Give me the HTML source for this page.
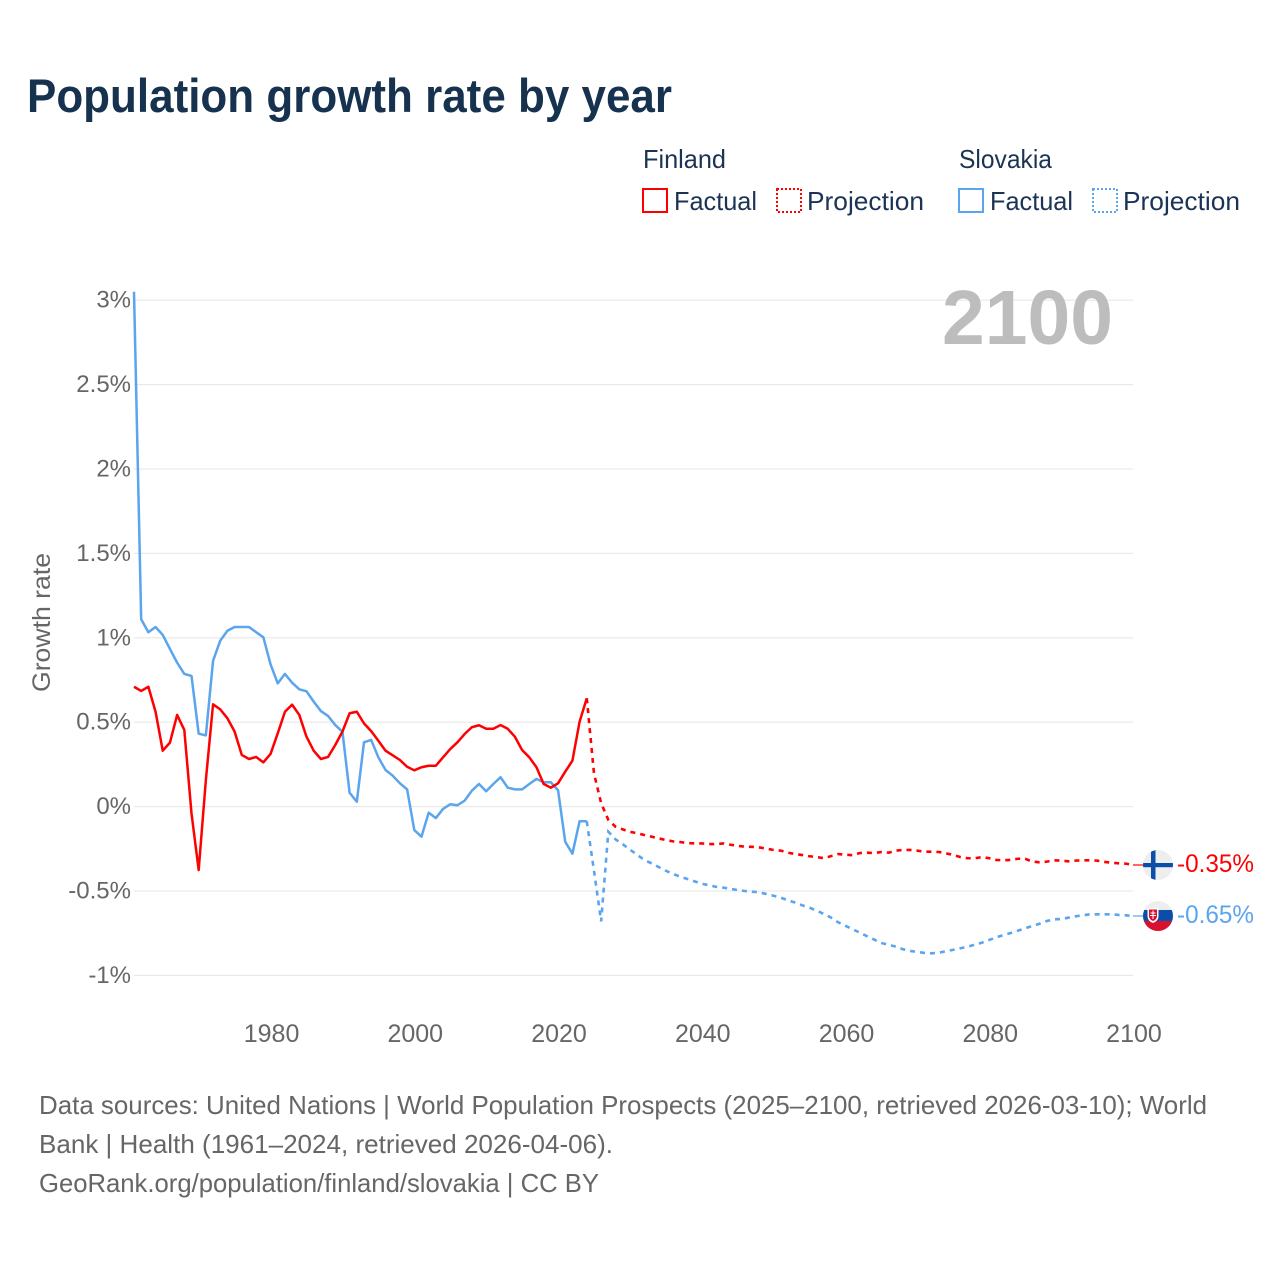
<!DOCTYPE html>
<html lang="en">
<head>
<meta charset="utf-8">
<title>Population growth rate by year</title>
<style>
html,body{margin:0;padding:0;background:#fff;width:1280px;height:1280px;overflow:hidden}
svg{display:block}
text{font-family:"Liberation Sans",Arial,sans-serif}
</style>
</head>
<body>
<svg id="chart" xmlns="http://www.w3.org/2000/svg" width="1280" height="1280" viewBox="0 0 1280 1280">
  <rect width="1280" height="1280" fill="#ffffff"/>
  <text x="27" y="112" font-size="47" font-weight="700" fill="#17324f" textLength="645" lengthAdjust="spacingAndGlyphs">Population growth rate by year</text>

  <g font-size="26" fill="#1b3354">
    <text x="643" y="168" textLength="83" lengthAdjust="spacingAndGlyphs">Finland</text>
    <rect x="643" y="189" width="24" height="23" fill="none" stroke="#ff0000" stroke-width="2"/>
    <text x="674" y="210" textLength="83" lengthAdjust="spacingAndGlyphs">Factual</text>
    <rect x="777" y="189" width="24" height="23" fill="none" stroke="#ff0000" stroke-width="2" stroke-dasharray="2 2"/>
    <text x="807" y="210" textLength="117" lengthAdjust="spacingAndGlyphs">Projection</text>
    <text x="959" y="168" textLength="93" lengthAdjust="spacingAndGlyphs">Slovakia</text>
    <rect x="959" y="189" width="24" height="23" fill="none" stroke="#5ba4ee" stroke-width="2"/>
    <text x="990" y="210" textLength="83" lengthAdjust="spacingAndGlyphs">Factual</text>
    <rect x="1093" y="189" width="24" height="23" fill="none" stroke="#5ba4ee" stroke-width="2" stroke-dasharray="2 2"/>
    <text x="1123" y="210" textLength="117" lengthAdjust="spacingAndGlyphs">Projection</text>
  </g>

  <text transform="translate(50,692) rotate(-90)" font-size="25" fill="#666666" textLength="139" lengthAdjust="spacingAndGlyphs">Growth rate</text>

  <g id="grid"></g>
  <g id="yticks"></g>
  <g id="xticks"></g>

  <text x="942" y="344" font-size="77" font-weight="700" fill="#bdbdbd" textLength="171" lengthAdjust="spacingAndGlyphs">2100</text>

  <g id="series"></g>
  <g id="ends"></g>

  <g font-size="26" fill="#666666">
    <text x="39" y="1114" textLength="1168" lengthAdjust="spacingAndGlyphs">Data sources: United Nations | World Population Prospects (2025–2100, retrieved 2026-03-10); World</text>
    <text x="39" y="1153" textLength="574" lengthAdjust="spacingAndGlyphs">Bank | Health (1961–2024, retrieved 2026-04-06).</text>
    <text x="39" y="1192" textLength="560" lengthAdjust="spacingAndGlyphs">GeoRank.org/population/finland/slovakia | CC BY</text>
  </g>
</svg>
<script>
var yTickValues = [3, 2.5, 2, 1.5, 1, 0.5, 0, -0.5, -1];
var yTickLabels = ["3%", "2.5%", "2%", "1.5%", "1%", "0.5%", "0%", "-0.5%", "-1%"];
var xTickYears = [1980, 2000, 2020, 2040, 2060, 2080, 2100];
var factualStartYear = 1961;
var projectionStartYear = 2025;

var finlandFactual = [0.71,0.685,0.71,0.562,0.331,0.379,0.543,0.454,-0.04,-0.376,0.158,0.606,0.576,0.523,0.444,0.306,0.282,0.294,0.262,0.312,0.434,0.562,0.604,0.543,0.414,0.331,0.282,0.294,0.365,0.444,0.553,0.562,0.493,0.447,0.39,0.331,0.304,0.276,0.236,0.215,0.233,0.242,0.242,0.292,0.341,0.381,0.43,0.47,0.482,0.461,0.461,0.483,0.461,0.414,0.335,0.292,0.233,0.134,0.112,0.138,0.207,0.272,0.503,0.642];
var finlandProjection = [0.197,0.02,-0.079,-0.119,-0.135,-0.149,-0.158,-0.168,-0.178,-0.188,-0.198,-0.206,-0.21,-0.216,-0.218,-0.218,-0.222,-0.222,-0.218,-0.226,-0.232,-0.238,-0.238,-0.242,-0.249,-0.257,-0.261,-0.273,-0.281,-0.287,-0.294,-0.299,-0.306,-0.293,-0.281,-0.285,-0.288,-0.275,-0.273,-0.275,-0.269,-0.273,-0.261,-0.257,-0.257,-0.261,-0.267,-0.267,-0.269,-0.277,-0.287,-0.299,-0.306,-0.306,-0.299,-0.306,-0.316,-0.318,-0.316,-0.309,-0.309,-0.326,-0.33,-0.326,-0.318,-0.32,-0.324,-0.32,-0.318,-0.318,-0.32,-0.328,-0.332,-0.336,-0.338,-0.346];
var slovakiaFactual = [3.05,1.11,1.033,1.064,1.017,0.934,0.853,0.786,0.774,0.432,0.422,0.864,0.983,1.042,1.064,1.064,1.064,1.033,1.003,0.843,0.73,0.786,0.734,0.695,0.683,0.622,0.566,0.537,0.483,0.444,0.082,0.029,0.381,0.395,0.292,0.217,0.183,0.138,0.102,-0.139,-0.178,-0.036,-0.068,-0.014,0.014,0.008,0.035,0.094,0.134,0.091,0.134,0.174,0.112,0.102,0.102,0.134,0.164,0.144,0.144,0.097,-0.208,-0.279,-0.087,-0.087];
var slovakiaProjection = [-0.38,-0.68,-0.149,-0.194,-0.223,-0.255,-0.285,-0.316,-0.336,-0.358,-0.38,-0.399,-0.415,-0.429,-0.443,-0.457,-0.466,-0.475,-0.48,-0.488,-0.494,-0.5,-0.504,-0.508,-0.518,-0.528,-0.54,-0.555,-0.569,-0.585,-0.599,-0.617,-0.636,-0.658,-0.686,-0.706,-0.727,-0.747,-0.768,-0.788,-0.808,-0.818,-0.83,-0.845,-0.855,-0.861,-0.867,-0.869,-0.865,-0.857,-0.848,-0.839,-0.83,-0.818,-0.806,-0.79,-0.774,-0.761,-0.749,-0.735,-0.721,-0.707,-0.694,-0.678,-0.668,-0.666,-0.658,-0.65,-0.644,-0.638,-0.638,-0.638,-0.638,-0.642,-0.644,-0.648];

var SVG_NS = "http://www.w3.org/2000/svg";
var RED = "#ff0000";
var BLUE = "#5ba4ee";

function xScale(year) { return 134 + (year - 1961) * 7.187; }
function yScale(value) { return 806.6 - value * 168.8; }

function make(tag, parent, attrs) {
  var el = document.createElementNS(SVG_NS, tag);
  for (var k in attrs) { el.setAttribute(k, attrs[k]); }
  parent.appendChild(el);
  return el;
}

function pathFrom(points) {
  return points.map(function (p, i) {
    return (i ? "L" : "M") + xScale(p[0]).toFixed(2) + " " + yScale(p[1]).toFixed(2);
  }).join("");
}

function factualPoints(values) {
  return values.map(function (v, i) { return [factualStartYear + i, v]; });
}

function projectionPoints(factual, values) {
  var pts = [[projectionStartYear - 1, factual[factual.length - 1]]];
  values.forEach(function (v, i) { pts.push([projectionStartYear + i, v]); });
  return pts;
}

var gridGroup = document.getElementById("grid");
var yTickGroup = document.getElementById("yticks");
yTickValues.forEach(function (v, i) {
  var line = make("line", gridGroup, {x1: 134, x2: 1133, y1: yScale(v), y2: yScale(v), stroke: "#e9e9e9", "stroke-width": 1.2});
  
  
  var label = make("text", yTickGroup, {x: 131, y: yScale(v) + 7.5, "text-anchor": "end", "font-size": 24, fill: "#666666"});
  
  
  label.textContent = yTickLabels[i];
});

var xTickGroup = document.getElementById("xticks");
xTickYears.forEach(function (year) {
  var label = make("text", xTickGroup, {x: xScale(year) + 1, y: 1042, "text-anchor": "middle", "font-size": 25, fill: "#666666"});
  
  
  label.textContent = String(year);
});

var seriesGroup = document.getElementById("series");
var seriesList = [
  {key: "slovakia", color: BLUE, factual: slovakiaFactual, projection: slovakiaProjection},
  {key: "finland", color: RED, factual: finlandFactual, projection: finlandProjection}
];
seriesList.forEach(function (s) {
  var solid = make("path", seriesGroup, {d: pathFrom(factualPoints(s.factual)), fill: "none", stroke: s.color, "stroke-width": 2.5, "stroke-linejoin": "round"});
  
  
  var dashed = make("path", seriesGroup, {d: pathFrom(projectionPoints(s.factual, s.projection)), fill: "none", stroke: s.color, "stroke-width": 2.6, "stroke-dasharray": "5 5"});
  
  
});

var endGroup = document.getElementById("ends");
var defs = make("defs", endGroup, {});

function endMarker(s) {
  var last = s.projection[s.projection.length - 1];
  var cy = yScale(last);
  var cx = 1158;
  var lead = make("line", endGroup, {x1: xScale(2100), x2: cx - 14, y1: cy, y2: cy, stroke: s.color, "stroke-width": 1.2});
  
  
  var clip = make("clipPath", defs, {id: "clip-" + s.key});
  make("circle", clip, {cx: cx, cy: cy, r: 15});
  var flag = make("g", endGroup, {"clip-path": "url(#clip-" + s.key + ")"});
  
  
  make("rect", flag, {x: cx - 15, y: cy - 15, width: 30, height: 30, fill: "#eeeeee"});
  if (s.key === "finland") {
    make("rect", flag, {x: cx - 7, y: cy - 15, width: 4.5, height: 30, fill: "#0b4ea9"});
    make("rect", flag, {x: cx - 15, y: cy - 2, width: 30, height: 4.2, fill: "#0b4ea9"});
  } else {
    make("rect", flag, {x: cx - 15, y: cy - 6, width: 30, height: 11, fill: "#0b4ea9"});
    make("rect", flag, {x: cx - 15, y: cy + 5, width: 30, height: 11, fill: "#d9112e"});
    make("path", flag, {d: "M" + (cx - 10.5) + " " + (cy - 8) + "h11v8q0 5-5.5 7q-5.5-2-5.5-7z", fill: "#ffffff"});
    make("path", flag, {d: "M" + (cx - 9) + " " + (cy - 6.5) + "h8v6.5q0 3.5-4 5q-4-1.5-4-5z", fill: "#d9112e"});
    make("path", flag, {d: "M" + (cx - 5.5) + " " + (cy - 5.5) + "h1v2h2v1h-2v1.5h2.5v1h-2.5v3h-1v-3h-2.5v-1h2.5v-1.5h-2v-1h2z", fill: "#ffffff"});
  }
  var label = make("text", endGroup, {x: 1177, y: cy + 7, "font-size": 25, fill: s.color, textLength: 77, lengthAdjust: "spacingAndGlyphs"});
  
  
  label.textContent = last.toFixed(2) + "%";
}
seriesList.slice().reverse().forEach(endMarker);
</script>
</body>
</html>
